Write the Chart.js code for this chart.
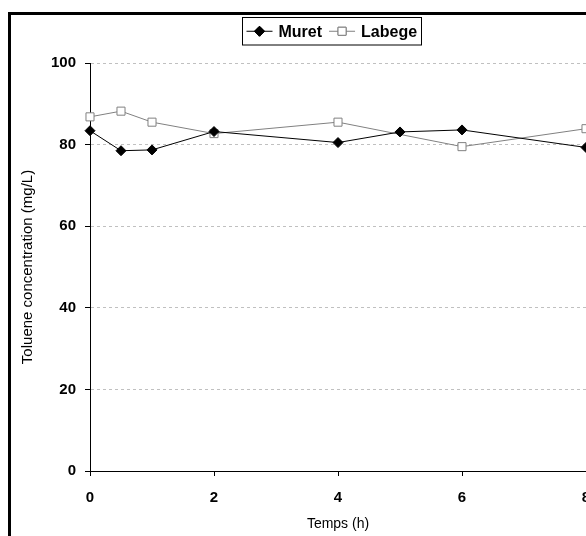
<!DOCTYPE html>
<html>
<head>
<meta charset="utf-8">
<script src="https://cdn.jsdelivr.net/npm/chart.js@4/dist/chart.umd.min.js"></script>
<style>
  html, body { margin: 0; padding: 0; background: #fff; overflow: hidden; }
  #wrap { position: absolute; left: 0; top: 0; width: 586px; height: 536px; }
  #frame { position: absolute; left: 8px; top: 12px; width: 620px; height: 600px;
           border: 3px solid #000; pointer-events: none; }
</style>
</head>
<body>
<div id="wrap">
  <canvas id="chart" width="586" height="536"></canvas>
</div>
<div id="frame"></div>
<script>
// time (h) and toluene concentration (mg/L)
const timeMuret = [0, 0.5, 1, 2, 4, 5, 6, 8];
const muret = [83.4, 78.5, 78.7, 83.2, 80.5, 83.1, 83.6, 79.3];
const timeLabege = [0, 0.5, 1, 2, 4, 6, 8];
const labege = [86.8, 88.2, 85.5, 82.7, 85.5, 79.5, 83.9];
const xTicks = [0, 2, 4, 6, 8];
const yTicks = [0, 20, 40, 60, 80, 100];

const pairs = (xs, ys) => xs.map((x, i) => ({ x: x, y: ys[i] }));

// legend with line + marker inside a bordered box
const boxLegend = {
  id: 'boxLegend',
  afterDraw(chart) {
    const ctx = chart.ctx;
    ctx.save();
    ctx.font = 'bold 16px "Liberation Sans", Arial, sans-serif';
    const lineLen = 26, gap = 6, itemGap = 7, pad = 4;
    const sets = chart.data.datasets;
    const widths = sets.map(d => ctx.measureText(d.label).width);
    let total = pad * 2;
    widths.forEach((w, i) => { total += lineLen + gap + w + (i ? itemGap : 0); });
    const cx = 331.5, top = 17.5, h = 27.5;
    const left = Math.round(cx - total / 2) + 0.5;
    ctx.strokeStyle = '#000';
    ctx.lineWidth = 1;
    ctx.strokeRect(left, top, Math.round(total), h);
    let x = left + pad;
    const cy = top + h / 2;
    sets.forEach((d, i) => {
      if (i) x += itemGap;
      ctx.strokeStyle = d.borderColor;
      ctx.lineWidth = 1;
      ctx.beginPath();
      ctx.moveTo(x, cy);
      ctx.lineTo(x + lineLen, cy);
      ctx.stroke();
      Chart.helpers.drawPoint(ctx, {
        pointStyle: d.pointStyle,
        radius: d.pointRadius,
        borderWidth: d.pointBorderWidth
      }, x + lineLen / 2, cy);
      ctx.fillStyle = d.pointBackgroundColor;
      ctx.strokeStyle = d.pointBorderColor;
      ctx.fill();
      ctx.stroke();
      x += lineLen + gap;
      ctx.fillStyle = '#000';
      ctx.textBaseline = 'middle';
      ctx.textAlign = 'left';
      ctx.fillText(d.label, x, cy + 1);
      x += widths[i];
    });
    ctx.restore();
  }
};

const tickFont = { family: '"Liberation Sans", Arial, sans-serif', size: 15, weight: 'bold' };
const titleFont = { family: '"Liberation Sans", Arial, sans-serif', size: 14, weight: 'normal' };

new Chart(document.getElementById('chart'), {
  type: 'line',
  data: {
    datasets: [{
      label: 'Muret',
      data: pairs(timeMuret, muret),
      borderColor: '#000',
      borderWidth: 1,
      pointStyle: 'rectRot',
      pointRadius: 5,
      pointBorderWidth: 1,
      pointBackgroundColor: '#000',
      pointBorderColor: '#000',
      tension: 0,
      clip: false
    }, {
      label: 'Labege',
      data: pairs(timeLabege, labege),
      borderColor: '#808080',
      borderWidth: 1,
      pointStyle: 'rect',
      pointRadius: 5.7,
      pointBorderWidth: 1,
      pointBackgroundColor: '#fff',
      pointBorderColor: '#808080',
      tension: 0,
      clip: false
    }]
  },
  options: {
    responsive: false,
    animation: false,
    layout: { autoPadding: false, padding: { left: 0, right: 0, top: 63, bottom: 0 } },
    plugins: {
      legend: { display: false },
      tooltip: { enabled: false }
    },
    scales: {
      x: {
        type: 'linear',
        min: 0,
        max: 8,
        afterBuildTicks: s => { s.ticks = xTicks.map(v => ({ value: v })); },
        afterFit: s => { s.height = 65; s.paddingRight = 0; },
        ticks: { font: tickFont, color: '#000', padding: 13, maxRotation: 0 },
        grid: { drawOnChartArea: false, drawTicks: true, tickLength: 5, tickColor: '#000', tickWidth: 1 },
        border: { color: '#000', width: 1 },
        title: { display: true, text: 'Temps (h)', font: titleFont, color: '#000', padding: { top: 0, bottom: 3 } }
      },
      y: {
        min: 0,
        max: 100,
        afterBuildTicks: s => { s.ticks = yTicks.map(v => ({ value: v })); },
        afterFit: s => { s.width = 90; },
        ticks: { font: tickFont, color: '#000', padding: 9 },
        grid: {
          color: '#c0c0c0',
          lineWidth: 1,
          tickLength: 5,
          tickColor: '#000',
          tickBorderDash: [],
          tickWidth: 1
        },
        border: { color: '#000', width: 1, dash: [3, 3] },
        title: { display: true, text: 'Toluene concentration (mg/L)', font: { family: '"Liberation Sans", Arial, sans-serif', size: 15 }, color: '#000', padding: { top: 19, bottom: 0 } }
      }
    }
  },
  plugins: [boxLegend]
});
</script>
</body>
</html>
